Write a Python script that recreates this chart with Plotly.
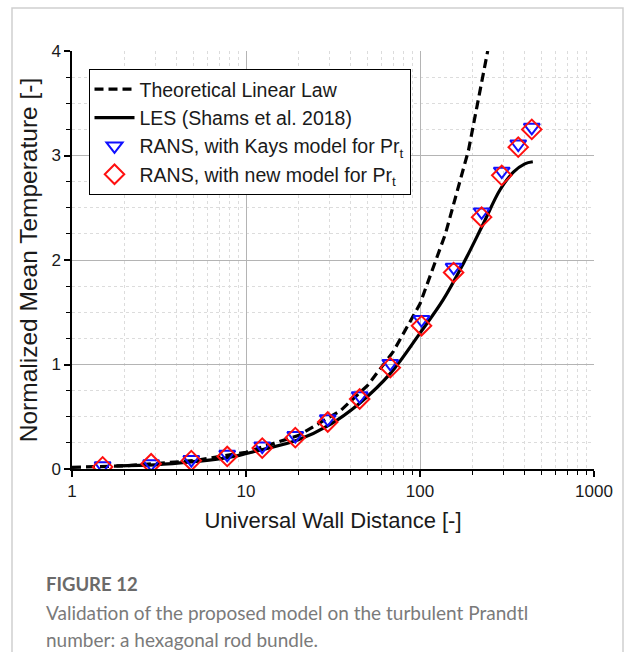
import plotly.graph_objects as go

# ---- data ----
law_x = [1.0, 2.0, 5.0, 10.0, 20.0, 35.0, 50.0, 70.0, 100.0, 140.0, 190.0, 245.0]
law_y = [0.016, 0.03, 0.08, 0.16, 0.32, 0.56, 0.80, 1.12, 1.58, 2.25, 3.05, 4.0]

les_x = [1.8, 3.0, 5.0, 8.0, 12.0, 20.0, 30.0, 45.0, 68.0, 100.0, 136.0, 178.0, 230.0, 288.0, 344.0, 400.0, 445.0]
les_y = [0.03, 0.04, 0.07, 0.11, 0.18, 0.28, 0.42, 0.63, 0.92, 1.30, 1.62, 1.97, 2.34, 2.67, 2.84, 2.92, 2.94]

rans_x = [1.5, 2.85, 4.85, 7.8, 12.4, 19.2, 29.5, 45.0, 67.5, 102.0, 156.0, 226.0, 295.0, 367.0, 439.0]
kays_y = [0.03, 0.05, 0.09, 0.14, 0.22, 0.32, 0.48, 0.70, 1.01, 1.43, 1.93, 2.46, 2.85, 3.11, 3.27]
new_y = [0.02, 0.05, 0.08, 0.12, 0.20, 0.30, 0.45, 0.67, 0.97, 1.37, 1.88, 2.41, 2.81, 3.08, 3.25]

x_ticks = [1, 10, 100, 1000]
x_tick_text = ["1", "10", "100", "1000"]
y_ticks = [0, 1, 2, 3, 4]

names = [
    "Theoretical Linear Law",
    "LES (Shams et al. 2018)",
    "RANS, with Kays model for Pr<sub>t</sub>",
    "RANS, with new model for Pr<sub>t</sub>",
]

caption_title = "<b>FIGURE 12</b>"
caption_lines = [
    "Validation of the proposed model on the turbulent Prandtl",
    "number: a hexagonal rod bundle.",
]

# ---- figure ----
W, H = 625, 652
L, R, T, B = 72, 31, 51, 183
pw, ph = W - L - R, H - T - B


def px_x(p):
    return (p - L) / pw


def px_y(p):
    return (H - B - p) / ph


fig = go.Figure()
fig.add_trace(go.Scatter(x=law_x, y=law_y, mode="lines", name=names[0],
                         line=dict(color="black", width=3.2, dash="9px,5px")))
fig.add_trace(go.Scatter(x=les_x, y=les_y, mode="lines", name=names[1],
                         line=dict(color="black", width=3.2), line_shape="spline"))
fig.add_trace(go.Scatter(x=rans_x, y=kays_y, mode="markers", name=names[2],
                         marker=dict(symbol="triangle-down-open", size=14, color="#1010ff",
                                     line=dict(width=2, color="#1010ff"))))
fig.add_trace(go.Scatter(x=rans_x, y=new_y, mode="markers", name=names[3],
                         marker=dict(symbol="diamond-open", size=15, color="#ff1010",
                                     line=dict(width=2, color="#ff1010"))))

FAM = "Liberation Sans, Arial, sans-serif"
axis_font = dict(family=FAM, size=17, color="#1a1a1a")

fig.update_xaxes(
    type="log", range=[0, 3], tickvals=x_ticks, ticktext=x_tick_text,
    showline=True, linecolor="black", linewidth=1.5,
    ticks="outside", ticklen=6, tickwidth=1.5, tickcolor="black",
    showgrid=True, gridcolor="#b4b4b4", gridwidth=1,
    zeroline=False, tickfont=axis_font,
    title=dict(text="Universal Wall Distance [-]", font=dict(family=FAM, size=22, color="#1a1a1a"),
               standoff=12),
    minor=dict(ticks="outside", ticklen=4, tickwidth=1.2, tickcolor="black",
               dtick="D1", showgrid=True, gridcolor="#dcdcdc", griddash="dot", gridwidth=1),
)
fig.update_yaxes(
    range=[0, 4], tickvals=y_ticks,
    showline=True, linecolor="black", linewidth=1.5,
    ticks="outside", ticklen=6, tickwidth=1.5, tickcolor="black",
    showgrid=True, gridcolor="#b4b4b4", gridwidth=1,
    zeroline=False, tickfont=axis_font,
    title=dict(text="Normalized Mean Temperature [-]", font=dict(family=FAM, size=24.5, color="#1a1a1a"),
               standoff=7),
    minor=dict(ticks="outside", ticklen=4, tickwidth=1.2, tickcolor="black",
               dtick=0.25, showgrid=True, gridcolor="#dcdcdc", griddash="dot", gridwidth=1),
)

shapes = [
    dict(type="rect", xref="paper", yref="paper",
         x0=px_x(12), x1=px_x(623), y0=px_y(700), y1=px_y(8),
         line=dict(color="#cfcfcf", width=1.5), fillcolor="rgba(0,0,0,0)", layer="below"),
]

annotations = [
    dict(text=caption_title, xref="paper", yref="paper", x=px_x(44), y=px_y(584),
         xanchor="left", yanchor="middle", showarrow=False,
         font=dict(family="Lato, Noto Sans, sans-serif", size=18.5, color="#6a6a6a")),
]
for i, line in enumerate(caption_lines):
    annotations.append(dict(text=line, xref="paper", yref="paper", x=px_x(44),
                            y=px_y(612.5 + 27 * i), xanchor="left", yanchor="middle",
                            showarrow=False,
                            font=dict(family="Lato, Noto Sans, sans-serif", size=19, color="#7a7a7a")))

fig.update_layout(
    width=W, height=H,
    margin=dict(l=L, r=R, t=T, b=B),
    paper_bgcolor="white", plot_bgcolor="white",
    showlegend=True,
    legend=dict(x=px_x(88.5), y=px_y(69), xanchor="left", yanchor="top",
                bgcolor="white", bordercolor="black", borderwidth=1,
                font=dict(family=FAM, size=19.5, color="#1a1a1a"),
                itemwidth=40, tracegroupgap=0),
    shapes=shapes,
    annotations=annotations,
)

fig.write_html("out.html")
